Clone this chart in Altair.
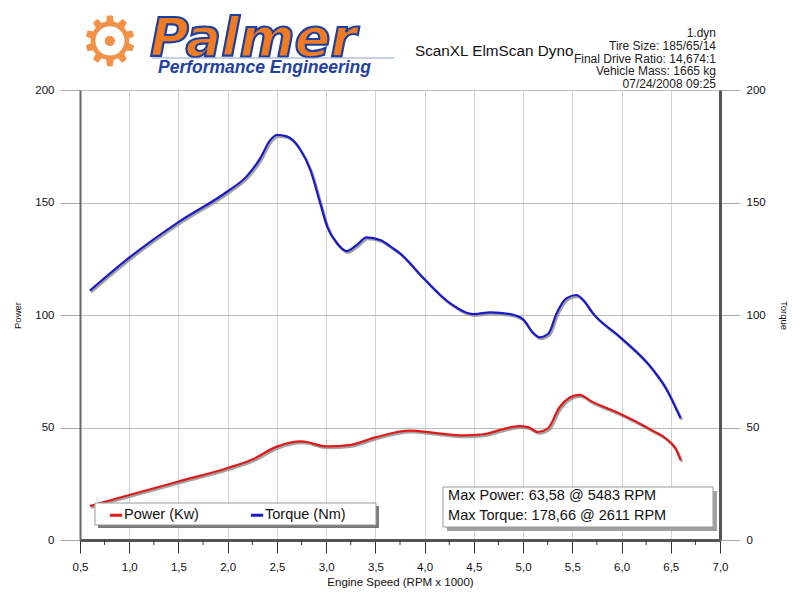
import altair as alt
import pandas as pd

# ---------------- data ----------------
series_names = ["Power (Kw)", "Torque (Nm)"]
series_colors = ["#e01a1a", "#1a1ac8"]

power_rpm = [0.60, 1.00, 1.50, 2.00, 2.25, 2.50, 2.75, 3.00, 3.25, 3.50, 3.85, 4.10, 4.40, 4.60,
             4.80, 4.96, 5.05, 5.15, 5.25, 5.37, 5.47, 5.57, 5.70, 6.00, 6.32, 6.46, 6.55, 6.60]
power_kw = [15.1, 20.0, 26.0, 32.0, 35.8, 41.5, 43.8, 41.6, 42.3, 45.6, 48.6, 47.6, 46.5, 47.0,
            49.3, 50.6, 50.2, 48.0, 49.5, 59.0, 63.2, 64.5, 61.5, 55.8, 48.5, 44.8, 40.5, 35.5]

torque_rpm = [0.60, 1.00, 1.50, 2.00, 2.19, 2.33, 2.43, 2.50, 2.60, 2.73, 2.84, 2.94, 3.01,
              3.11, 3.21, 3.31, 3.41, 3.55, 3.68, 3.75, 3.99, 4.26, 4.50, 4.67, 4.87, 5.00,
              5.09, 5.17, 5.26, 5.34, 5.44, 5.54, 5.61, 5.71, 5.98, 6.32, 6.46, 6.56, 6.60]
torque_nm = [110.8, 125.5, 141.3, 155.0, 161.5, 169.6, 177.6, 180.0, 179.4, 174.0, 164.4, 149.6, 139.3,
             131.9, 128.4, 131.1, 134.5, 133.3, 129.6, 127.4, 116.3, 105.2, 100.4, 101.2, 100.4, 98.1,
             92.6, 90.1, 91.9, 100.7, 107.4, 108.9, 106.7, 100.7, 90.4, 75.6, 66.7, 57.8, 54.1]

x_major_ticks = [0.5, 1.0, 1.5, 2.0, 2.5, 3.0, 3.5, 4.0, 4.5, 5.0, 5.5, 6.0, 6.5, 7.0]
x_minor_ticks = [0.75, 1.25, 1.75, 2.25, 2.75, 3.25, 3.75, 4.25, 4.75, 5.25, 5.75, 6.25, 6.75]
y_ticks = [0, 50, 100, 150, 200]

chart_title = "ScanXL ElmScan Dyno"
info_lines = ["1.dyn", "Tire Size: 185/65/14", "Final Drive Ratio: 14,674:1",
              "Vehicle Mass: 1665 kg", "07/24/2008 09:25"]
max_lines = ["Max Power: 63,58 @ 5483 RPM", "Max Torque: 178,66 @ 2611 RPM"]
brand_name = "Palmer"
brand_sub = "Performance Engineering"

# ---------------- layout / style ----------------
X_DOMAIN = [0.5, 7.0]
Y_DOMAIN = [0, 200]
FONT = "Liberation Sans"
W, H = 640, 450

# annotation boxes in data units (rpm, value)
LEGEND_BOX = dict(x=0.652, x2=3.506, y=16.44, y2=6.67)
INFO_BOX = dict(x=4.187, x2=6.929, y=23.56, y2=5.78)
INFO_TEXT_X = 4.238
INFO_TEXT_Y = [19.56, 10.67]

xscale = alt.Scale(domain=X_DOMAIN, nice=False, zero=False)
yscale = alt.Scale(domain=Y_DOMAIN, nice=False, zero=False)
cscale = alt.Scale(domain=series_names, range=series_colors)

power_df = pd.DataFrame({"rpm": power_rpm, "value": power_kw, "series": series_names[0]})
torque_df = pd.DataFrame({"rpm": torque_rpm, "value": torque_nm, "series": series_names[1]})

legend = alt.Legend(orient="none", legendX=28, legendY=417, direction="horizontal", title=None,
                    symbolType="stroke", symbolStrokeWidth=3, symbolSize=150,
                    labelFontSize=14.5, labelFont=FONT, labelColor="#111",
                    columnPadding=45, padding=0, labelOffset=0)

x_axis = alt.Axis(values=x_major_ticks,
                  labelExpr="replace(format(datum.value, '.1f'), '.', ',')",
                  title="Engine Speed (RPM x 1000)", grid=True, gridColor="#d2d2d2",
                  tickSize=13, tickColor="#333", domainColor="#555", domainWidth=3,
                  labelPadding=8, labelFontSize=11.5, titleFontSize=11.5, titlePadding=4,
                  labelFlush=False)

left_axis = alt.Axis(values=y_ticks, title="Power", orient="left", grid=True, gridColor="#bdbdbd",
                     tickSize=20, tickColor="#aaa", domainColor="#666", domainWidth=2,
                     labelPadding=6, labelFontSize=11.5, titleFontSize=9.5,
                     titleX=-63, titleY=225, titleAngle=270, titleAlign="center",
                     titleBaseline="middle")

right_axis = alt.Axis(values=y_ticks, title="Torque", orient="right", grid=False,
                      tickSize=20, tickColor="#aaa", domainColor="#555", domainWidth=3,
                      labelPadding=6, labelFontSize=11.5, titleFontSize=9.5,
                      titleX=63, titleY=225, titleAngle=90, titleAlign="center",
                      titleBaseline="middle")


def curve_layers(df, xaxis, yaxis):
    # the shadow layer comes first and carries the axes
    shadow = alt.Chart(df).mark_line(color="#8c8c8c", strokeWidth=2.6, opacity=0.8,
                                     interpolate="monotone", xOffset=1.3, yOffset=1.6).encode(
        x=alt.X("rpm:Q", scale=xscale, axis=xaxis),
        y=alt.Y("value:Q", scale=yscale, axis=yaxis),
    )
    line = alt.Chart(df).mark_line(strokeWidth=2.2, interpolate="monotone").encode(
        x=alt.X("rpm:Q", scale=xscale, axis=None),
        y=alt.Y("value:Q", scale=yscale, axis=None),
        color=alt.Color("series:N", scale=cscale, legend=legend),
    )
    return shadow, line


p_shadow, p_line = curve_layers(power_df, x_axis, left_axis)
t_shadow, t_line = curve_layers(torque_df, None, right_axis)

minor = alt.Chart(pd.DataFrame({"rpm": x_minor_ticks})).mark_rule(color="#333", strokeWidth=1).encode(
    x=alt.X("rpm:Q", scale=xscale, axis=None),
    y=alt.value(H), y2=alt.value(H + 5),
)


def box_layers(box, shadow_off, shadow_color):
    df = pd.DataFrame({k: [v] for k, v in box.items()})
    enc = dict(
        x=alt.X("x:Q", scale=xscale, axis=None), x2="x2:Q",
        y=alt.Y("y:Q", scale=yscale, axis=None), y2="y2:Q",
    )
    sh = alt.Chart(df).mark_rect(fill=shadow_color, xOffset=shadow_off, x2Offset=shadow_off,
                                 yOffset=shadow_off, y2Offset=shadow_off).encode(**enc)
    bx = alt.Chart(df).mark_rect(fill="white", stroke="#9a9a9a", strokeWidth=1).encode(**enc)
    return sh, bx


lg_sh, lg_bx = box_layers(LEGEND_BOX, 3, "#7a7a7a")
in_sh, in_bx = box_layers(INFO_BOX, 4, "#a0a0a0")

info_df = pd.DataFrame({"text": max_lines, "x": [INFO_TEXT_X] * 2, "y": INFO_TEXT_Y})
info_text = alt.Chart(info_df).mark_text(align="left", baseline="middle", font=FONT,
                                         fontSize=14.5, color="#111").encode(
    x=alt.X("x:Q", scale=xscale, axis=None),
    y=alt.Y("y:Q", scale=yscale, axis=None),
    text="text:N",
)

one = pd.DataFrame({"a": [0]})


def deco_text(txt, px, py, **kw):
    return alt.Chart(one).mark_text(text=txt, **kw).encode(x=alt.value(px), y=alt.value(py))


gear = deco_text("\u2699", 30, -45, font="DejaVu Sans", fontSize=68, color="#f29248",
                 align="center", baseline="middle")
brand = deco_text(brand_name, 70, -34, font="DejaVu Sans", fontSize=53, fontWeight="bold",
                  fontStyle="italic", fill="#f07b22", stroke="#1d3f9e", strokeWidth=2.2,
                  align="left", baseline="alphabetic")
brand_rule = alt.Chart(one).mark_rule(color="#8fa0c8", strokeWidth=1).encode(
    x=alt.value(72), x2=alt.value(314), y=alt.value(-32))
brand_sub_t = deco_text(brand_sub, 78, -17, font="Liberation Sans Narrow, Liberation Sans",
                        fontSize=17.5, fontWeight="bold", fontStyle="italic", color="#2341a0",
                        align="left", baseline="alphabetic")
title_t = deco_text(chart_title, 335, -34, font="Liberation Sans Narrow, Liberation Sans",
                    fontSize=15.3, color="#111", align="left", baseline="alphabetic")
info_block = deco_text("\n".join(info_lines), 636, -53, font=FONT, fontSize=12, color="#222",
                       align="right", baseline="alphabetic", lineBreak="\n", lineHeight=12.8)

chart = alt.layer(
    p_shadow, t_shadow, p_line, t_line, minor, lg_sh, lg_bx, in_sh, in_bx, info_text,
    gear, brand, brand_rule, brand_sub_t, title_t, info_block,
).resolve_scale(x="independent", y="independent").properties(
    width=W, height=H,
    autosize=alt.AutoSizeParams(type="none"),
    padding={"left": 72, "top": 82, "right": 72, "bottom": 52},
    background="white",
).configure_view(stroke=None).configure_axis(
    labelFont=FONT, titleFont=FONT, labelColor="#111", titleColor="#111",
    titleFontWeight="normal",
)

chart.save("out.html", embed_options={"renderer": "svg", "actions": False})
